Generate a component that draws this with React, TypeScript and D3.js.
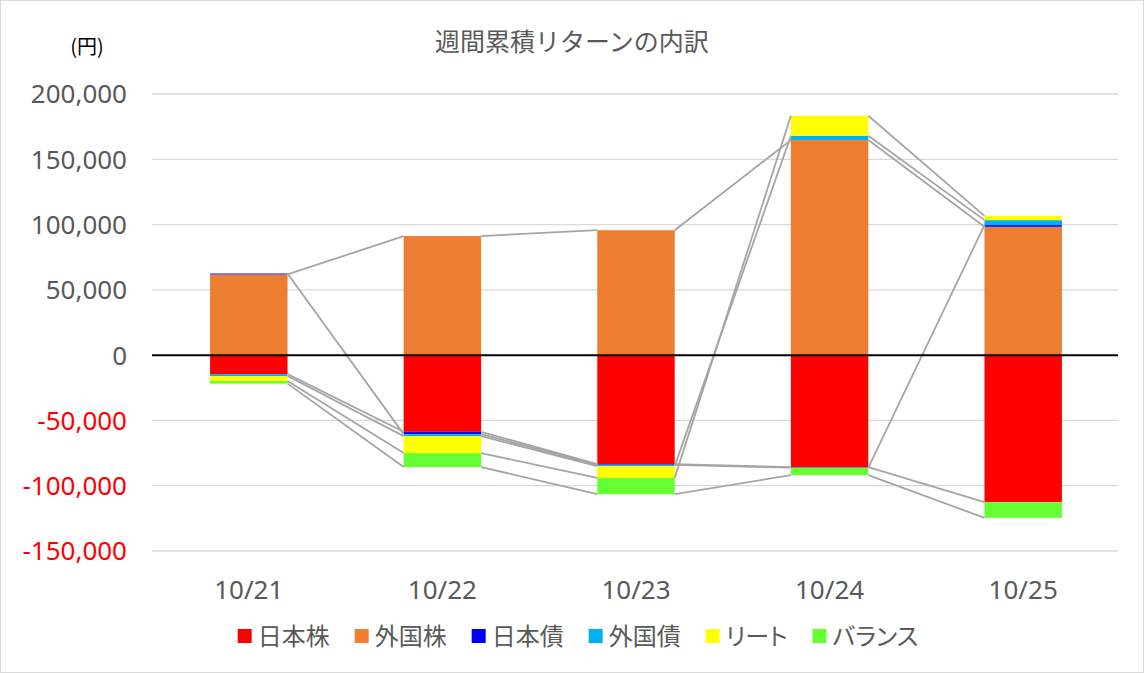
import React, { useEffect, useRef } from 'react';
import * as d3 from 'd3';

const categories = ['10/21', '10/22', '10/23', '10/24', '10/25'];
const seriesNames = ['日本株', '外国株', '日本債', '外国債', 'リート', 'バランス'];
const seriesColors = ['#ff0000', '#ed7d31', '#0000ff', '#00b0f0', '#ffff00', '#66ff33'];
const japanStock = [-14500, -58700, -83500, -85800, -112600];
const foreignStock = [61800, 91200, 95700, 164700, 98300];
const japanBond = [700, -1800, -500, -400, 1300];
const foreignBond = [-1500, -1500, -1000, 3300, 3800];
const reit = [-3800, -13000, -9000, 15300, 3300];
const balance = [-2000, -10700, -12500, -5700, -12000];
const yTicks = [-150000, -100000, -50000, 0, 50000, 100000, 150000, 200000];
const title = '週間累積リターンの内訳';
const unitLabel = '(円)';

const W = 1144;
const H = 673;

export default function App() {
  const ref = useRef<SVGSVGElement | null>(null);

  useEffect(() => {
    const svg = d3.select(ref.current);
    svg.selectAll('*').remove();

    const seriesValues = [japanStock, foreignStock, japanBond, foreignBond, reit, balance];
    const rows = categories.map((c, i) => {
      const r: any = { cat: c };
      seriesNames.forEach((s, j) => (r[s] = seriesValues[j][i]));
      return r;
    });
    const stack = d3.stack<any>().keys(seriesNames).offset(d3.stackOffsetDiverging);
    const stacked = stack(rows);

    const x = d3.scaleBand().domain(categories).range([152, 1120]).paddingInner(0.6).paddingOuter(0.3);
    const y = d3.scaleLinear().domain([-150000, 200000]).range([551, 94]);

    svg.append('rect').attr('x', 0.5).attr('y', 0.5).attr('width', W - 1).attr('height', H - 1)
      .attr('fill', '#fff').attr('stroke', '#d9d9d9');

    const font = "'Noto Sans', 'Noto Sans CJK JP', sans-serif";
    const fmt = d3.formatLocale({ decimal: '.', thousands: ',', grouping: [3], currency: ['', ''], minus: '-' }).format(',');

    // gridlines
    svg.append('g').selectAll('line').data(yTicks.filter(t => t !== 0)).join('line')
      .attr('x1', 152).attr('x2', 1118)
      .attr('y1', d => y(d)).attr('y2', d => y(d))
      .attr('stroke', '#d9d9d9').attr('stroke-width', 1.3);

    // y labels
    svg.append('g').selectAll('text').data(yTicks).join('text')
      .attr('x', 127).attr('y', d => y(d)).attr('dy', '0.36em')
      .attr('text-anchor', 'end')
      .attr('font-family', font).attr('font-size', 26)
      .attr('fill', d => (d < 0 ? '#ff0000' : '#595959'))
      .text(d => fmt(d));

    // bars
    svg.append('g').selectAll('g').data(stacked).join('g')
      .attr('fill', (_, i) => seriesColors[i])
      .selectAll('rect').data(d => d).join('rect')
      .attr('x', d => x(d.data.cat)!)
      .attr('width', x.bandwidth())
      .attr('y', d => y(Math.max(d[0], d[1])))
      .attr('height', d => Math.abs(y(d[0]) - y(d[1])));

    // series lines
    const lineG = svg.append('g');
    stacked.forEach(s => {
      const ends = s.map(d => (d[1] > 0 && d[0] >= 0 ? d[1] : d[0]));
      for (let i = 0; i < categories.length - 1; i++) {
        lineG.append('line')
          .attr('x1', x(categories[i])! + x.bandwidth())
          .attr('y1', y(ends[i]))
          .attr('x2', x(categories[i + 1])!)
          .attr('y2', y(ends[i + 1]))
          .attr('stroke', '#a5a5a5').attr('stroke-width', 1.8);
      }
    });

    // zero line
    svg.append('line').attr('x1', 152).attr('x2', 1118).attr('y1', y(0)).attr('y2', y(0))
      .attr('stroke', '#000').attr('stroke-width', 2);

    // x labels
    svg.append('g').selectAll('text').data(categories).join('text')
      .attr('x', d => x(d)! + x.bandwidth() / 2).attr('y', 590).attr('dy', '0.36em')
      .attr('text-anchor', 'middle')
      .attr('font-family', font).attr('font-size', 26).attr('fill', '#595959')
      .text(d => d);

    // title
    svg.append('text').attr('x', 572).attr('y', 42).attr('dy', '0.36em')
      .attr('text-anchor', 'middle').attr('font-family', "'Noto Sans CJK JP', sans-serif")
      .attr('font-size', 25).attr('fill', '#595959').text(title);

    svg.append('text').attr('x', 87).attr('y', 47).attr('dy', '0.36em')
      .attr('text-anchor', 'middle').attr('font-family', "'Noto Sans CJK JP', sans-serif")
      .attr('font-size', 20).attr('fill', '#000').text(unitLabel);

    // legend
    const lg = svg.append('g');
    const items = seriesNames.map((name, i) => {
      const g = lg.append('g');
      g.append('rect').attr('x', 0).attr('y', -7).attr('width', 14).attr('height', 14).attr('fill', seriesColors[i]);
      const t = g.append('text').attr('x', 20).attr('y', 0).attr('dy', '0.36em')
        .attr('font-family', "'Noto Sans CJK JP', sans-serif")
        .style('font-feature-settings', "'palt'")
        .attr('font-size', 24).attr('fill', '#595959').text(name);
      const w = 20 + (t.node() as SVGTextElement).getComputedTextLength();
      return { g, w };
    });
    const gap = 25;
    const total = d3.sum(items, d => d.w) + gap * (items.length - 1);
    let cx = 578 - total / 2;
    items.forEach(it => {
      it.g.attr('transform', `translate(${cx},636)`);
      cx += it.w + gap;
    });
  }, []);

  return (
    <svg ref={ref} width={W} height={H} style={{ position: 'absolute', left: 0, top: 0, display: 'block' }} />
  );
}
